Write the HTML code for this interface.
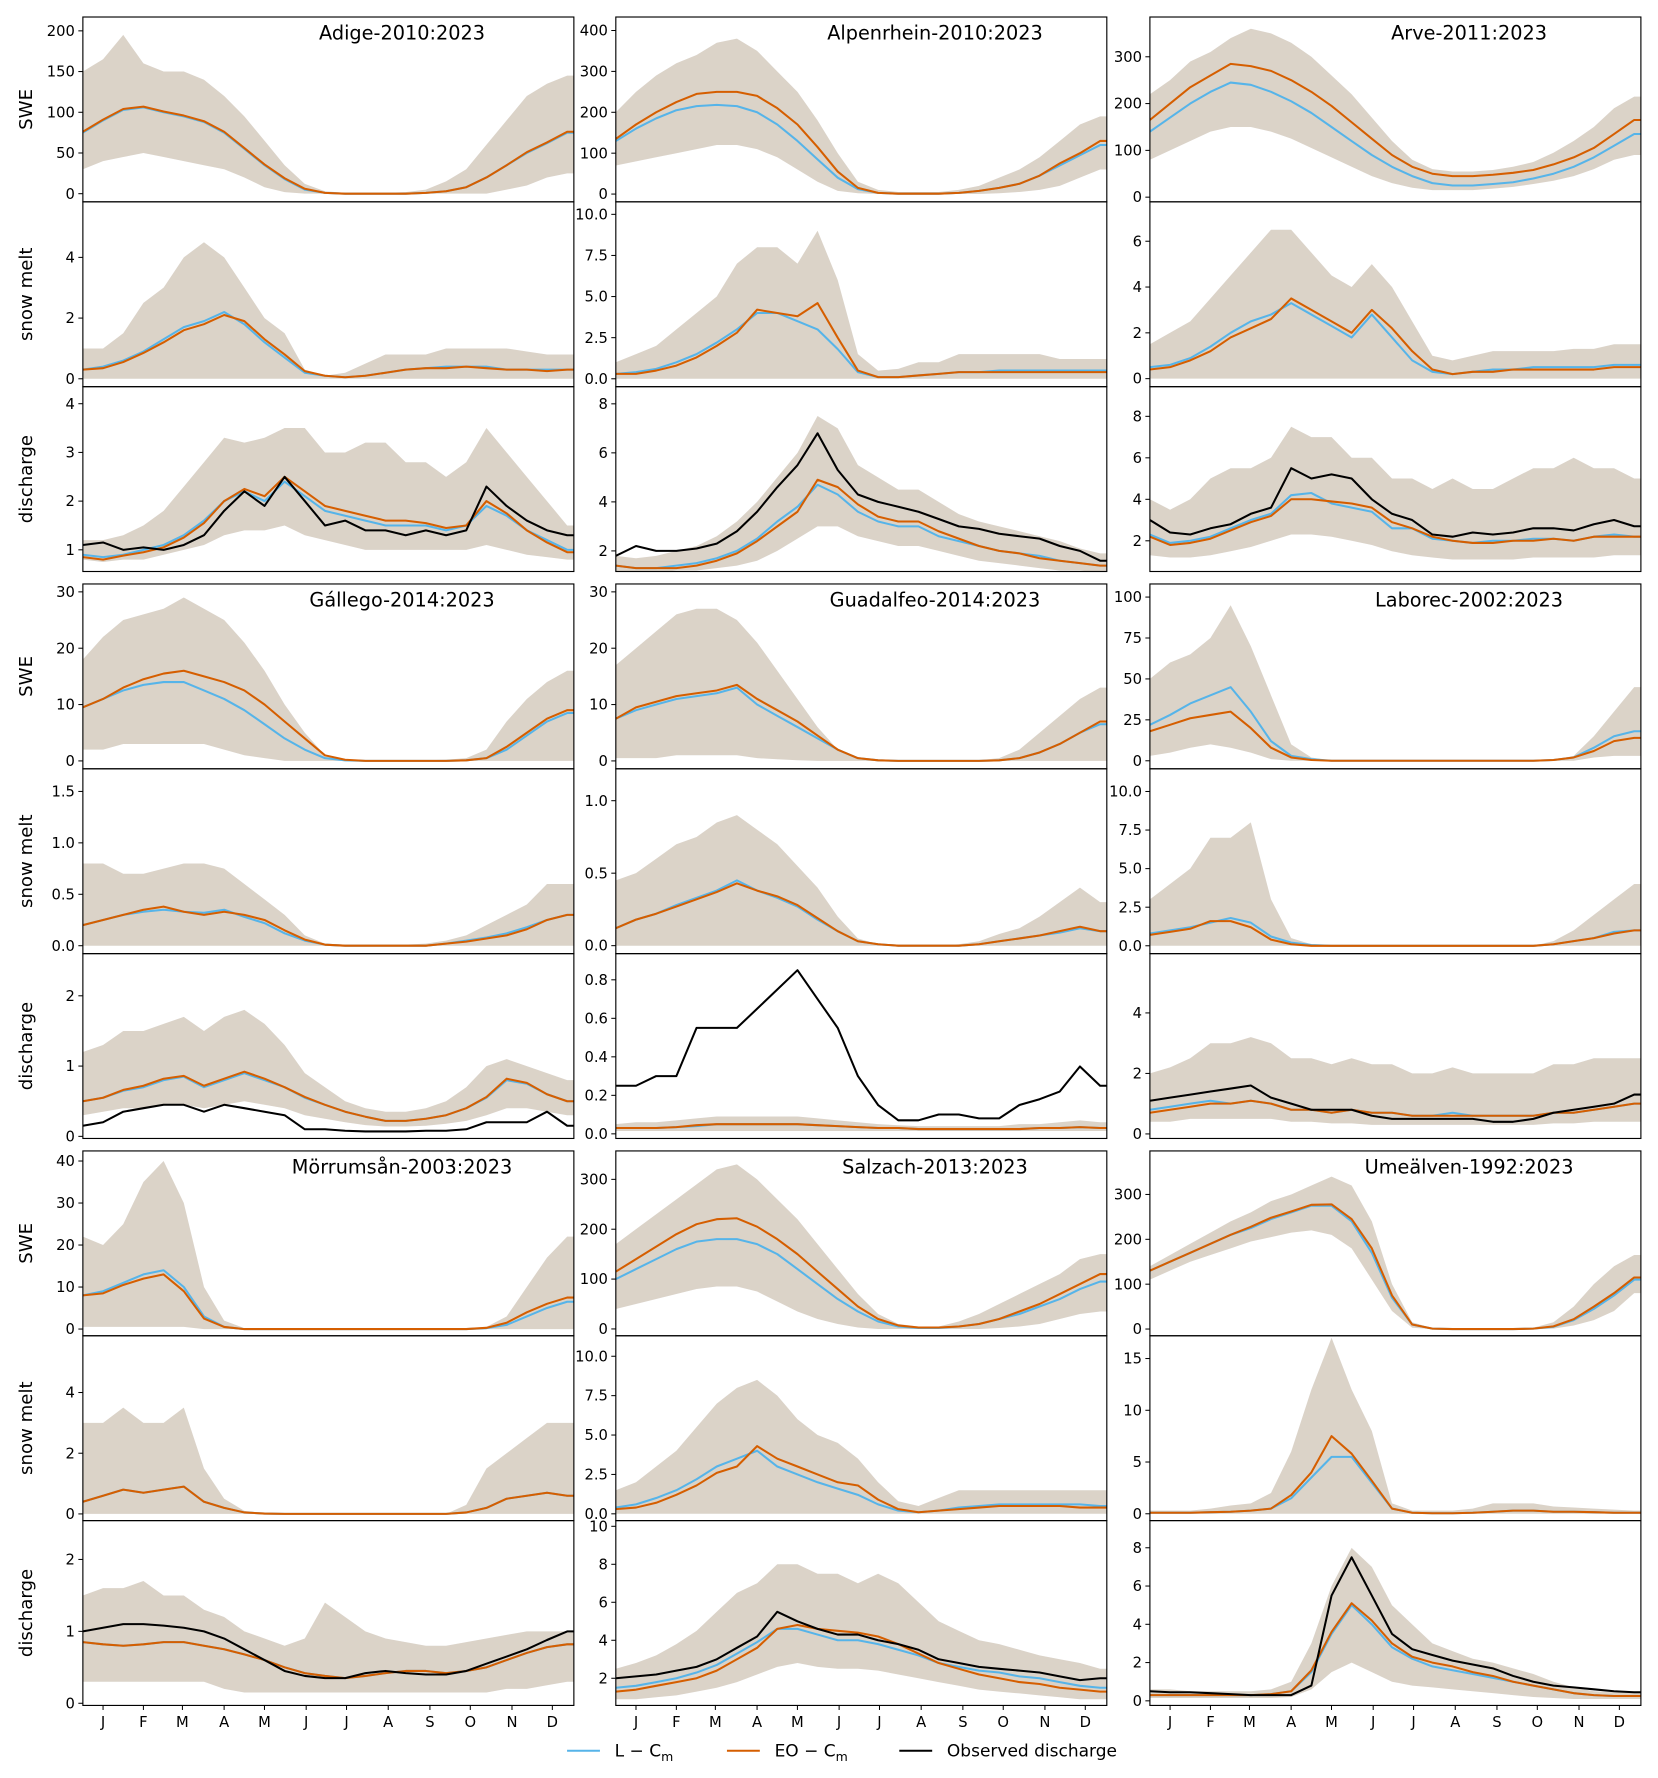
<!DOCTYPE html>
<html><head><meta charset="utf-8"><style>
body{margin:0;background:#fff;}
svg{display:block;font-family:"DejaVu Sans","Liberation Sans",sans-serif;}
</style></head><body>
<svg id="fig" width="1658" height="1778" viewBox="0 0 1462 1568" xmlns="http://www.w3.org/2000/svg"></svg>
<script>
const days=[0,15,30,45,60,75,90,105,120,135,150,165,180,195,210,225,240,255,270,285,300,315,330,345,360];
const monthLabels=['J','F','M','A','M','J','J','A','S','O','N','D'];
const monthDays=[15,45,74,105,135,166,196,227,258,288,319,349];
const basinNames=['Adige-2010:2023','Alpenrhein-2010:2023','Arve-2011:2023','Gállego-2014:2023','Guadalfeo-2014:2023','Laborec-2002:2023','Mörrumsån-2003:2023','Salzach-2013:2023','Umeälven-1992:2023'];
const rowLabels=['SWE','snow melt','discharge'];

// ---- Adige ----
const adigeSweL=[75,90,103,106,100,95,88,75,55,35,18,5,1,0,0,0,0,1,3,8,20,35,50,62,75];
const adigeSweEO=[76,91,104,107,101,96,89,76,56,36,19,6,1,0,0,0,0,1,3,8,20,35,51,63,76];
const adigeSweHi=[150,165,195,160,150,150,140,120,95,65,35,12,3,1,1,1,2,5,15,30,60,90,120,135,145];
const adigeSweLo=[30,40,45,50,45,40,35,30,20,8,2,0,0,0,0,0,0,0,0,0,0,5,10,20,25];
const adigeMeltL=[0.3,0.4,0.6,0.9,1.3,1.7,1.9,2.2,1.8,1.2,0.7,0.2,0.1,0.05,0.1,0.2,0.3,0.35,0.4,0.4,0.4,0.3,0.3,0.3,0.3];
const adigeMeltEO=[0.3,0.35,0.55,0.85,1.2,1.6,1.8,2.1,1.9,1.3,0.8,0.25,0.1,0.05,0.1,0.2,0.3,0.35,0.35,0.4,0.35,0.3,0.3,0.25,0.3];
const adigeMeltHi=[1,1,1.5,2.5,3,4,4.5,4,3,2,1.5,0.3,0.1,0.2,0.5,0.8,0.8,0.8,1,1,1,1,0.9,0.8,0.8];
const adigeMeltLo=[0,0,0,0,0,0,0,0,0,0,0,0,0,0,0,0,0,0,0,0,0,0,0,0,0];
const adigeQL=[0.9,0.85,0.9,1.0,1.1,1.3,1.6,2.0,2.2,2.0,2.4,2.1,1.8,1.7,1.6,1.5,1.5,1.5,1.4,1.5,1.9,1.7,1.4,1.2,1.0];
const adigeQEO=[0.85,0.8,0.88,0.95,1.05,1.25,1.55,2.0,2.25,2.1,2.5,2.2,1.9,1.8,1.7,1.6,1.6,1.55,1.45,1.5,2.0,1.75,1.4,1.15,0.95];
const adigeQHi=[1.2,1.2,1.3,1.5,1.8,2.3,2.8,3.3,3.2,3.3,3.5,3.5,3.0,3.0,3.2,3.2,2.8,2.8,2.5,2.8,3.5,3.0,2.5,2.0,1.5];
const adigeQLo=[0.8,0.75,0.8,0.8,0.9,1.0,1.1,1.3,1.4,1.4,1.5,1.3,1.2,1.1,1.0,1.0,1.0,1.0,1.0,1.0,1.1,1.0,0.9,0.85,0.8];
const adigeQObs=[1.1,1.15,1.0,1.05,1.0,1.1,1.3,1.8,2.2,1.9,2.5,2.0,1.5,1.6,1.4,1.4,1.3,1.4,1.3,1.4,2.3,1.9,1.6,1.4,1.3];
// ---- Alpenrhein ----
const alpSweL=[130,160,185,205,215,218,215,200,170,130,85,40,12,3,1,1,1,3,8,15,25,45,70,95,120];
const alpSweEO=[135,170,200,225,245,250,250,240,210,170,115,55,15,3,1,1,1,3,8,15,25,45,75,100,130];
const alpSweHi=[200,250,290,320,340,370,380,350,300,250,180,100,30,10,5,5,5,10,20,40,60,90,130,170,190];
const alpSweLo=[70,80,90,100,110,120,120,110,90,60,30,8,2,0,0,0,0,0,0,2,5,10,20,40,60];
const alpMeltL=[0.3,0.4,0.6,1.0,1.5,2.2,3.0,4.0,4.0,3.5,3.0,1.8,0.4,0.1,0.1,0.2,0.3,0.4,0.4,0.5,0.5,0.5,0.5,0.5,0.5];
const alpMeltEO=[0.3,0.3,0.5,0.8,1.3,2.0,2.8,4.2,4.0,3.8,4.6,2.5,0.5,0.1,0.1,0.2,0.3,0.4,0.4,0.4,0.4,0.4,0.4,0.4,0.4];
const alpMeltHi=[1,1.5,2,3,4,5,7,8,8,7,9,6,1.5,0.5,0.6,1,1,1.5,1.5,1.5,1.5,1.5,1.2,1.2,1.2];
const alpMeltLo=[0,0,0,0,0,0,0,0,0,0,0,0,0,0,0,0,0,0,0,0,0,0,0,0,0];
const alpQL=[1.4,1.3,1.3,1.4,1.5,1.7,2.0,2.5,3.2,3.8,4.7,4.3,3.6,3.2,3.0,3.0,2.6,2.4,2.2,2.0,1.9,1.8,1.6,1.5,1.4];
const alpQEO=[1.4,1.3,1.3,1.3,1.4,1.6,1.9,2.4,3.0,3.6,4.9,4.6,3.9,3.4,3.2,3.2,2.8,2.5,2.2,2.0,1.9,1.7,1.6,1.5,1.4];
const alpQHi=[1.8,1.7,1.8,2.0,2.2,2.6,3.2,4.0,5.0,6.0,7.5,7.0,5.5,5.0,4.5,4.5,4.0,3.5,3.2,3.0,2.8,2.6,2.4,2.1,1.9];
const alpQLo=[1.1,1.1,1.1,1.2,1.2,1.3,1.4,1.6,2.0,2.5,3.0,3.0,2.6,2.4,2.2,2.2,2.0,1.8,1.6,1.5,1.4,1.3,1.2,1.2,1.1];
const alpQObs=[1.8,2.2,2.0,2.0,2.1,2.3,2.8,3.6,4.6,5.5,6.8,5.3,4.3,4.0,3.8,3.6,3.3,3.0,2.9,2.7,2.6,2.5,2.2,2.0,1.6];
// ---- Arve ----
const arveSweL=[140,170,200,225,245,240,225,205,180,150,120,90,65,45,30,25,25,28,32,40,50,65,85,110,135];
const arveSweEO=[165,200,235,260,285,280,270,250,225,195,160,125,90,65,50,45,45,48,52,58,70,85,105,135,165];
const arveSweHi=[220,250,290,310,340,360,350,330,300,260,220,170,120,80,60,55,55,58,65,75,95,120,150,190,215];
const arveSweLo=[80,100,120,140,150,150,140,125,105,85,65,45,30,20,15,15,15,18,22,28,35,45,60,80,90];
const arveMeltL=[0.5,0.6,0.9,1.4,2.0,2.5,2.8,3.3,2.8,2.3,1.8,2.8,1.8,0.8,0.3,0.2,0.3,0.4,0.4,0.5,0.5,0.5,0.5,0.6,0.6];
const arveMeltEO=[0.4,0.5,0.8,1.2,1.8,2.2,2.6,3.5,3.0,2.5,2.0,3.0,2.2,1.2,0.4,0.2,0.3,0.3,0.4,0.4,0.4,0.4,0.4,0.5,0.5];
const arveMeltHi=[1.5,2,2.5,3.5,4.5,5.5,6.5,6.5,5.5,4.5,4,5,4,2.5,1,0.8,1,1.2,1.2,1.2,1.2,1.3,1.3,1.5,1.5];
const arveMeltLo=[0,0,0,0,0,0,0,0,0,0,0,0,0,0,0,0,0,0,0,0,0,0,0,0,0];
const arveQL=[2.3,1.9,2.0,2.2,2.6,3.0,3.3,4.2,4.3,3.8,3.6,3.4,2.6,2.6,2.1,2.0,1.9,2.0,2.0,2.1,2.1,2.0,2.2,2.3,2.2];
const arveQEO=[2.2,1.8,1.9,2.1,2.5,2.9,3.2,4.0,4.0,3.9,3.8,3.6,2.9,2.6,2.2,2.0,1.9,1.9,2.0,2.0,2.1,2.0,2.2,2.2,2.2];
const arveQHi=[4,3.5,4,5,5.5,5.5,6,7.5,7,7,6,6,5,5,4.5,5,4.5,4.5,5,5.5,5.5,6,5.5,5.5,5];
const arveQLo=[1.3,1.2,1.2,1.3,1.5,1.7,2,2.3,2.3,2.2,2,1.8,1.5,1.3,1.2,1.1,1.1,1.1,1.1,1.2,1.2,1.2,1.2,1.3,1.3];
const arveQObs=[3.0,2.4,2.3,2.6,2.8,3.3,3.6,5.5,5.0,5.2,5.0,4.0,3.3,3.0,2.3,2.2,2.4,2.3,2.4,2.6,2.6,2.5,2.8,3.0,2.7];
// ---- Gallego ----
const galSweL=[9.5,11,12.5,13.5,14,14,12.5,11,9,6.5,4,2,0.5,0.1,0,0,0,0,0,0.1,0.5,2,4.5,7,8.5];
const galSweEO=[9.5,11,13,14.5,15.5,16,15,14,12.5,10,7,4,1,0.2,0,0,0,0,0,0.1,0.5,2.5,5,7.5,9];
const galSweHi=[18,22,25,26,27,29,27,25,21,16,10,5,1,0.3,0.1,0.1,0.1,0.1,0.2,0.5,2,7,11,14,16];
const galSweLo=[2,2,3,3,3,3,3,2,1,0.5,0,0,0,0,0,0,0,0,0,0,0,0,0,0,0];
const galMeltL=[0.2,0.25,0.3,0.33,0.35,0.33,0.32,0.35,0.28,0.22,0.12,0.05,0.01,0,0,0,0,0,0.02,0.05,0.08,0.12,0.18,0.25,0.3];
const galMeltEO=[0.2,0.25,0.3,0.35,0.38,0.33,0.3,0.33,0.3,0.25,0.15,0.06,0.01,0,0,0,0,0,0.02,0.04,0.07,0.1,0.16,0.25,0.3];
const galMeltHi=[0.8,0.8,0.7,0.7,0.75,0.8,0.8,0.75,0.6,0.45,0.3,0.1,0.02,0.01,0.01,0.01,0.01,0.02,0.05,0.1,0.2,0.3,0.4,0.6,0.6];
const galMeltLo=[0,0,0,0,0,0,0,0,0,0,0,0,0,0,0,0,0,0,0,0,0,0,0,0,0];
const galQL=[0.5,0.55,0.65,0.7,0.8,0.85,0.7,0.8,0.9,0.8,0.7,0.55,0.45,0.35,0.28,0.22,0.22,0.25,0.3,0.4,0.55,0.8,0.75,0.6,0.5];
const galQEO=[0.5,0.55,0.66,0.72,0.82,0.86,0.72,0.82,0.92,0.82,0.7,0.56,0.45,0.35,0.28,0.22,0.22,0.25,0.3,0.4,0.56,0.82,0.76,0.6,0.5];
const galQHi=[1.2,1.3,1.5,1.5,1.6,1.7,1.5,1.7,1.8,1.6,1.3,0.9,0.7,0.5,0.4,0.35,0.35,0.4,0.5,0.7,1.0,1.1,1.0,0.9,0.8];
const galQLo=[0.3,0.35,0.4,0.4,0.45,0.45,0.4,0.45,0.5,0.45,0.4,0.3,0.25,0.2,0.16,0.14,0.14,0.15,0.18,0.22,0.3,0.4,0.4,0.35,0.3];
const galQObs=[0.15,0.2,0.35,0.4,0.45,0.45,0.35,0.45,0.4,0.35,0.3,0.1,0.1,0.08,0.07,0.07,0.07,0.08,0.08,0.1,0.2,0.2,0.2,0.35,0.15];
// ---- Guadalfeo ----
const guaSweL=[7.5,9,10,11,11.5,12,13,10,8,6,4,2,0.5,0.1,0,0,0,0,0,0.1,0.5,1.5,3,5,6.5];
const guaSweEO=[7.5,9.5,10.5,11.5,12,12.5,13.5,11,9,7,4.5,2,0.5,0.1,0,0,0,0,0,0.1,0.5,1.5,3,5,7];
const guaSweHi=[17,20,23,26,27,27,25,21,16,11,6,2,0.5,0.1,0,0,0,0,0.1,0.5,2,5,8,11,13];
const guaSweLo=[0.5,0.5,0.5,1,1,1,1,0.5,0.3,0.1,0,0,0,0,0,0,0,0,0,0,0,0,0,0,0];
const guaMeltL=[0.12,0.18,0.22,0.28,0.33,0.38,0.45,0.38,0.33,0.27,0.18,0.1,0.03,0.01,0,0,0,0,0.01,0.03,0.05,0.07,0.09,0.12,0.1];
const guaMeltEO=[0.12,0.18,0.22,0.27,0.32,0.37,0.43,0.38,0.34,0.28,0.19,0.1,0.03,0.01,0,0,0,0,0.01,0.03,0.05,0.07,0.1,0.13,0.1];
const guaMeltHi=[0.45,0.5,0.6,0.7,0.75,0.85,0.9,0.8,0.7,0.55,0.4,0.2,0.05,0.01,0,0,0,0.01,0.03,0.08,0.12,0.2,0.3,0.4,0.3];
const guaMeltLo=[0,0,0,0,0,0,0,0,0,0,0,0,0,0,0,0,0,0,0,0,0,0,0,0,0];
const guaQL=[0.03,0.03,0.03,0.035,0.04,0.05,0.05,0.05,0.05,0.05,0.045,0.04,0.035,0.03,0.03,0.025,0.025,0.025,0.025,0.025,0.025,0.03,0.03,0.035,0.03];
const guaQEO=[0.03,0.03,0.03,0.035,0.045,0.05,0.05,0.05,0.05,0.05,0.045,0.04,0.035,0.03,0.03,0.025,0.025,0.025,0.025,0.025,0.025,0.03,0.03,0.035,0.03];
const guaQHi=[0.05,0.06,0.06,0.07,0.08,0.09,0.09,0.09,0.09,0.09,0.08,0.07,0.06,0.05,0.045,0.04,0.04,0.04,0.04,0.04,0.05,0.05,0.06,0.07,0.06];
const guaQLo=[0.015,0.015,0.015,0.015,0.015,0.015,0.015,0.015,0.015,0.015,0.015,0.015,0.015,0.015,0.015,0.015,0.015,0.015,0.015,0.015,0.015,0.015,0.015,0.015,0.015];
const guaQObs=[0.25,0.25,0.3,0.3,0.55,0.55,0.55,0.65,0.75,0.85,0.7,0.55,0.3,0.15,0.07,0.07,0.1,0.1,0.08,0.08,0.15,0.18,0.22,0.35,0.25];
// ---- Laborec ----
const labSweL=[22,28,35,40,45,30,12,3,1,0,0,0,0,0,0,0,0,0,0,0,0.5,2,8,15,18];
const labSweEO=[18,22,26,28,30,20,8,2,0.5,0,0,0,0,0,0,0,0,0,0,0,0.5,2,6,12,14];
const labSweHi=[50,60,65,75,95,70,40,10,2,0,0,0,0,0,0,0,0,0,0,0,0.5,3,15,30,45];
const labSweLo=[3,5,8,10,8,5,1,0,0,0,0,0,0,0,0,0,0,0,0,0,0,0,2,3,3];
const labMeltL=[0.8,1.0,1.2,1.5,1.8,1.5,0.6,0.2,0.05,0,0,0,0,0,0,0,0,0,0,0,0.1,0.3,0.5,0.9,1.0];
const labMeltEO=[0.7,0.9,1.1,1.6,1.6,1.2,0.4,0.1,0,0,0,0,0,0,0,0,0,0,0,0,0.1,0.3,0.5,0.8,1.0];
const labMeltHi=[3,4,5,7,7,8,3,0.5,0.1,0,0,0,0,0,0,0,0,0,0,0,0.3,1,2,3,4];
const labMeltLo=[0,0,0,0,0,0,0,0,0,0,0,0,0,0,0,0,0,0,0,0,0,0,0,0,0];
const labQL=[0.8,0.9,1.0,1.1,1.0,1.1,1.0,0.8,0.8,0.7,0.8,0.7,0.7,0.6,0.6,0.7,0.6,0.6,0.6,0.6,0.7,0.7,0.8,0.9,1.0];
const labQEO=[0.7,0.8,0.9,1.0,1.0,1.1,1.0,0.8,0.8,0.7,0.8,0.7,0.7,0.6,0.6,0.6,0.6,0.6,0.6,0.6,0.7,0.7,0.8,0.9,1.0];
const labQHi=[2,2.2,2.5,3,3,3.2,3,2.5,2.5,2.3,2.5,2.3,2.3,2,2,2.2,2,2,2,2,2.3,2.3,2.5,2.5,2.5];
const labQLo=[0.4,0.4,0.5,0.5,0.5,0.5,0.5,0.4,0.4,0.35,0.35,0.3,0.3,0.3,0.3,0.3,0.3,0.3,0.3,0.3,0.35,0.35,0.4,0.4,0.4];
const labQObs=[1.1,1.2,1.3,1.4,1.5,1.6,1.2,1.0,0.8,0.8,0.8,0.6,0.5,0.5,0.5,0.5,0.5,0.4,0.4,0.5,0.7,0.8,0.9,1.0,1.3];
// ---- Morrumsan ----
const morSweL=[8,9,11,13,14,10,3,0.5,0,0,0,0,0,0,0,0,0,0,0,0,0.2,1,3,5,6.5];
const morSweEO=[8,8.5,10.5,12,13,9,2.5,0.5,0,0,0,0,0,0,0,0,0,0,0,0,0.3,1.5,4,6,7.5];
const morSweHi=[22,20,25,35,40,30,10,2,0.2,0,0,0,0,0,0,0,0,0,0,0,0.5,3,10,17,22];
const morSweLo=[0.5,0.5,0.5,0.5,0.5,0.5,0,0,0,0,0,0,0,0,0,0,0,0,0,0,0,0,0,0,0];
const morMeltL=[0.4,0.6,0.8,0.7,0.8,0.9,0.4,0.2,0.05,0.01,0,0,0,0,0,0,0,0,0,0.05,0.2,0.5,0.6,0.7,0.6];
const morMeltEO=[0.4,0.6,0.8,0.7,0.8,0.9,0.4,0.2,0.05,0.01,0,0,0,0,0,0,0,0,0,0.05,0.2,0.5,0.6,0.7,0.6];
const morMeltHi=[3,3,3.5,3,3,3.5,1.5,0.5,0.1,0.02,0,0,0,0,0,0,0,0,0,0.3,1.5,2,2.5,3,3];
const morMeltLo=[0,0,0,0,0,0,0,0,0,0,0,0,0,0,0,0,0,0,0,0,0,0,0,0,0];
const morQL=[0.85,0.82,0.8,0.82,0.85,0.85,0.8,0.75,0.68,0.6,0.5,0.42,0.38,0.35,0.38,0.42,0.45,0.45,0.42,0.45,0.5,0.6,0.7,0.78,0.82];
const morQEO=[0.85,0.82,0.8,0.82,0.85,0.85,0.8,0.75,0.68,0.6,0.5,0.42,0.38,0.35,0.38,0.42,0.45,0.45,0.42,0.45,0.5,0.6,0.7,0.78,0.82];
const morQHi=[1.5,1.6,1.6,1.7,1.5,1.5,1.3,1.2,1.0,0.9,0.8,0.9,1.4,1.2,1.0,0.9,0.85,0.8,0.8,0.85,0.9,0.95,1.0,1.0,1.0];
const morQLo=[0.3,0.3,0.3,0.3,0.3,0.3,0.3,0.2,0.15,0.15,0.15,0.15,0.15,0.15,0.15,0.15,0.15,0.15,0.15,0.15,0.15,0.2,0.2,0.25,0.3];
const morQObs=[1.0,1.05,1.1,1.1,1.08,1.05,1.0,0.9,0.75,0.6,0.45,0.38,0.35,0.35,0.42,0.45,0.42,0.4,0.4,0.45,0.55,0.65,0.75,0.88,1.0];
// ---- Salzach ----
const salSweL=[100,120,140,160,175,180,180,170,150,120,90,60,35,15,5,2,2,5,10,20,30,45,60,80,95];
const salSweEO=[115,140,165,190,210,220,222,205,180,150,115,80,45,20,7,3,3,5,10,20,35,50,70,90,110];
const salSweHi=[170,200,230,260,290,320,330,300,260,220,170,120,70,30,10,5,5,15,30,50,70,90,110,140,150];
const salSweLo=[40,50,60,70,80,85,85,75,55,35,20,10,3,0,0,0,0,0,0,2,5,10,20,30,35];
const salMeltL=[0.4,0.6,1.0,1.5,2.2,3.0,3.5,4.0,3.0,2.5,2.0,1.6,1.2,0.6,0.2,0.1,0.2,0.4,0.5,0.6,0.6,0.6,0.6,0.6,0.5];
const salMeltEO=[0.3,0.4,0.7,1.2,1.8,2.6,3.0,4.3,3.5,3.0,2.5,2.0,1.8,0.9,0.3,0.1,0.2,0.3,0.4,0.5,0.5,0.5,0.5,0.4,0.4];
const salMeltHi=[1.5,2,3,4,5.5,7,8,8.5,7.5,6,5,4.5,3.5,2,0.8,0.5,1,1.5,1.5,1.5,1.5,1.5,1.5,1.5,1.5];
const salMeltLo=[0,0,0,0,0,0,0,0,0,0,0,0,0,0,0,0,0,0,0,0,0,0,0,0,0];
const salQL=[1.5,1.6,1.8,2.0,2.3,2.7,3.3,3.9,4.6,4.6,4.3,4.0,4.0,3.8,3.5,3.2,2.8,2.6,2.4,2.3,2.1,2.0,1.8,1.6,1.5];
const salQEO=[1.3,1.4,1.6,1.8,2.0,2.4,3.0,3.6,4.6,4.8,4.6,4.5,4.4,4.2,3.8,3.3,2.8,2.5,2.2,2.0,1.8,1.7,1.5,1.4,1.3];
const salQHi=[2.5,2.8,3.2,3.8,4.5,5.5,6.5,7,8,8,7.5,7.5,7,7.5,7,6,5,4.5,4,3.8,3.5,3.2,3,2.8,2.5];
const salQLo=[0.9,0.9,1.0,1.1,1.3,1.5,1.8,2.2,2.6,2.8,2.6,2.5,2.5,2.4,2.2,2.0,1.8,1.6,1.4,1.3,1.2,1.1,1.0,0.9,0.9];
const salQObs=[2.0,2.1,2.2,2.4,2.6,3.0,3.6,4.2,5.5,5.0,4.6,4.3,4.3,4.0,3.8,3.5,3.0,2.8,2.6,2.5,2.4,2.3,2.1,1.9,2.0];
// ---- Umealven ----
const umeSweL=[130,150,170,190,210,225,245,260,275,275,240,170,70,10,1,0,0,0,0,1,5,20,45,75,110];
const umeSweEO=[130,150,170,190,210,228,248,262,277,278,245,180,75,10,1,0,0,0,0,1,6,22,50,80,115];
const umeSweHi=[140,165,190,215,240,260,285,300,320,340,320,240,100,15,2,0,0,0,1,3,15,50,100,140,165];
const umeSweLo=[110,130,150,165,180,195,205,215,220,210,180,110,40,3,0,0,0,0,0,0,1,8,20,40,80];
const umeMeltL=[0.1,0.1,0.1,0.15,0.2,0.3,0.5,1.5,3.5,5.5,5.5,3.0,0.5,0.1,0.05,0.05,0.1,0.2,0.3,0.3,0.2,0.2,0.15,0.1,0.1];
const umeMeltEO=[0.1,0.1,0.1,0.15,0.2,0.3,0.5,1.8,4,7.5,5.8,3.2,0.5,0.1,0.05,0.05,0.1,0.2,0.3,0.3,0.2,0.2,0.15,0.1,0.1];
const umeMeltHi=[0.3,0.3,0.3,0.5,0.8,1,2,6,12,17,12,8,1,0.3,0.3,0.3,0.5,1,1,1,0.7,0.6,0.5,0.4,0.3];
const umeMeltLo=[0,0,0,0,0,0,0,0,0,0,0,0,0,0,0,0,0,0,0,0,0,0,0,0,0];
const umeQL=[0.3,0.3,0.3,0.3,0.3,0.3,0.35,0.5,1.5,3.5,5.0,4.0,2.8,2.2,1.8,1.6,1.4,1.2,1.0,0.8,0.6,0.4,0.3,0.25,0.25];
const umeQEO=[0.3,0.3,0.3,0.3,0.3,0.3,0.35,0.5,1.6,3.6,5.1,4.2,3.0,2.3,2.0,1.8,1.5,1.3,1.0,0.8,0.6,0.4,0.3,0.25,0.25];
const umeQHi=[0.6,0.6,0.5,0.5,0.5,0.5,0.6,1,3,6,8,7,5,4,3,2.6,2.2,2,1.7,1.4,1.0,0.7,0.5,0.45,0.5];
const umeQLo=[0.15,0.15,0.15,0.15,0.15,0.15,0.15,0.2,0.6,1.5,2.0,1.5,1.0,0.8,0.7,0.6,0.5,0.4,0.3,0.2,0.15,0.1,0.1,0.1,0.1];
const umeQObs=[0.5,0.45,0.45,0.4,0.35,0.3,0.3,0.3,0.8,5.5,7.5,5.5,3.5,2.7,2.4,2.1,1.9,1.7,1.3,1.0,0.8,0.7,0.6,0.5,0.45];

// y-limits and tick labels
const yLimits=[
 [[-10,217],[-0.26,5.83],[0.555,4.35]],
 [[-19,433],[-0.48,10.76],[1.16,8.7]],
 [[-10,385],[-0.35,7.72],[0.52,9.43]],
 [[-1.4,31.4],[-0.077,1.72],[-0.03,2.6]],
 [[-1.4,31.4],[-0.055,1.22],[-0.024,0.936]],
 [[-4.9,108],[-0.51,11.47],[-0.15,5.96]],
 [[-1.6,42.4],[-0.22,5.87],[-0.03,2.54]],
 [[-13.7,357],[-0.43,11.3],[0.57,10.3]],
 [[-15,397],[-0.66,17.2],[-0.24,9.42]]];
const yTicks=[
 [['0','50','100','150','200'],['0','2','4'],['1','2','3','4']],
 [['0','100','200','300','400'],['0.0','2.5','5.0','7.5','10.0'],['2','4','6','8']],
 [['0','100','200','300'],['0','2','4','6'],['2','4','6','8']],
 [['0','10','20','30'],['0.0','0.5','1.0','1.5'],['0','1','2']],
 [['0','10','20','30'],['0.0','0.5','1.0'],['0.0','0.2','0.4','0.6','0.8']],
 [['0','25','50','75','100'],['0.0','2.5','5.0','7.5','10.0'],['0','2','4']],
 [['0','10','20','30','40'],['0','2','4'],['0','1','2']],
 [['0','100','200','300'],['0.0','2.5','5.0','7.5','10.0'],['2','4','6','8','10']],
 [['0','100','200','300'],['0','5','10','15'],['0','2','4','6','8']]];

const series=[
 [[adigeSweL,adigeSweEO,adigeSweHi,adigeSweLo,null],[adigeMeltL,adigeMeltEO,adigeMeltHi,adigeMeltLo,null],[adigeQL,adigeQEO,adigeQHi,adigeQLo,adigeQObs]],
 [[alpSweL,alpSweEO,alpSweHi,alpSweLo,null],[alpMeltL,alpMeltEO,alpMeltHi,alpMeltLo,null],[alpQL,alpQEO,alpQHi,alpQLo,alpQObs]],
 [[arveSweL,arveSweEO,arveSweHi,arveSweLo,null],[arveMeltL,arveMeltEO,arveMeltHi,arveMeltLo,null],[arveQL,arveQEO,arveQHi,arveQLo,arveQObs]],
 [[galSweL,galSweEO,galSweHi,galSweLo,null],[galMeltL,galMeltEO,galMeltHi,galMeltLo,null],[galQL,galQEO,galQHi,galQLo,galQObs]],
 [[guaSweL,guaSweEO,guaSweHi,guaSweLo,null],[guaMeltL,guaMeltEO,guaMeltHi,guaMeltLo,null],[guaQL,guaQEO,guaQHi,guaQLo,guaQObs]],
 [[labSweL,labSweEO,labSweHi,labSweLo,null],[labMeltL,labMeltEO,labMeltHi,labMeltLo,null],[labQL,labQEO,labQHi,labQLo,labQObs]],
 [[morSweL,morSweEO,morSweHi,morSweLo,null],[morMeltL,morMeltEO,morMeltHi,morMeltLo,null],[morQL,morQEO,morQHi,morQLo,morQObs]],
 [[salSweL,salSweEO,salSweHi,salSweLo,null],[salMeltL,salMeltEO,salMeltHi,salMeltLo,null],[salQL,salQEO,salQHi,salQLo,salQObs]],
 [[umeSweL,umeSweEO,umeSweHi,umeSweLo,null],[umeMeltL,umeMeltEO,umeMeltHi,umeMeltLo,null],[umeQL,umeQEO,umeQHi,umeQLo,umeQObs]]];

const NS='http://www.w3.org/2000/svg';
const svg=document.getElementById('fig');
const colX=[73,543,1014], grpY=[15,515,1015], PW=433, PH=163;
function mk(tag,attrs,parent){const e=document.createElementNS(NS,tag);for(const k in attrs)e.setAttribute(k,attrs[k]);(parent||svg).appendChild(e);return e;}

for(let b=0;b<9;b++){
  const col=b%3, grp=Math.floor(b/3);
  for(let r=0;r<3;r++){
    const x0=colX[col], y0=grpY[grp]+r*PH;
    const [lo,hi]=yLimits[b][r];
    const sx=d=>x0+d/365*PW;
    const sy=v=>y0+PH-(v-lo)/(hi-lo)*PH;
    const g=mk('g',{});
    
    
    const clipId='c'+b+'_'+r;
    const cp=mk('clipPath',{id:clipId},g);
    mk('rect',{x:x0,y:y0,width:PW,height:PH},cp);
    const plot=mk('g',{'clip-path':'url(#'+clipId+')'},g);
    const [sL,sEO,sHi,sLo,sObs]=series[b][r];
    let bp='';
    days.forEach((d,i)=>{bp+=(i?'L':'M')+sx(d).toFixed(1)+','+sy(sHi[i]).toFixed(1);});
    bp+='L'+sx(365).toFixed(1)+','+sy(sHi[sHi.length-1]).toFixed(1);
    bp+='L'+sx(365).toFixed(1)+','+sy(sLo[sLo.length-1]).toFixed(1);
    for(let i=days.length-1;i>=0;i--){bp+='L'+sx(days[i]).toFixed(1)+','+sy(sLo[i]).toFixed(1);}
    bp+='Z';
    const b1=mk('path',{d:bp,fill:'#56b4e9','fill-opacity':0.2,stroke:'none'},plot);
    
    
    const b2=mk('path',{d:bp,fill:'#d55e00','fill-opacity':0.2,stroke:'none'},plot);
    
    
    const line=(arr,color,name)=>{
      let p='';days.forEach((d,i)=>{p+=(i?'L':'M')+sx(d).toFixed(1)+','+sy(arr[i]).toFixed(1);});
      p+='L'+sx(365).toFixed(1)+','+sy(arr[arr.length-1]).toFixed(1);
      const e=mk('path',{d:p,fill:'none',stroke:color,'stroke-width':1.8,'stroke-linejoin':'round'},plot);
      
      
    };
    line(sL,'#56b4e9','line-l-cm');
    line(sEO,'#d55e00','line-eo-cm');
    if(sObs) line(sObs,'#000','line-observed');
    mk('rect',{x:x0,y:y0,width:PW,height:PH,fill:'none',stroke:'#000','stroke-width':1},g);
    yTicks[b][r].forEach(t=>{
      const yy=sy(parseFloat(t));
      mk('line',{x1:x0-4,x2:x0,y1:yy,y2:yy,stroke:'#000','stroke-width':0.9},g);
      const tx=mk('text',{x:x0-7,y:yy+4.5,'font-size':13,'text-anchor':'end',fill:'#000'},g);
      tx.textContent=t;
      
      
    });
    if(r===0){
      const tt=mk('text',{x:x0+0.65*PW,y:y0+20,'font-size':17,'text-anchor':'middle',fill:'#000'},g);
      tt.textContent=basinNames[b];
      
      
    }
    if(col===0){
      const cy=y0+PH/2;
      const yl=mk('text',{x:0,y:0,'font-size':16,'text-anchor':'middle',fill:'#000',transform:'translate(28,'+cy+') rotate(-90)'},g);
      yl.textContent=rowLabels[r];
      
      
    }
    if(r===2 && grp===2){
      monthDays.forEach((d,i)=>{
        const xx=sx(d);
        mk('line',{x1:xx,x2:xx,y1:y0+PH,y2:y0+PH+4,stroke:'#000','stroke-width':0.9},g);
        const mt=mk('text',{x:xx,y:y0+PH+19,'font-size':13,'text-anchor':'middle',fill:'#000'},g);
        mt.textContent=monthLabels[i];
        
        
      });
    }
  }
}
const leg=mk('g',{});


const legItems=[['#56b4e9',500,'L − C','m','legend-entry-l-cm'],['#d55e00',641,'EO − C','m','legend-entry-eo-cm'],['#000',793,'Observed discharge','','legend-entry-observed']];
legItems.forEach(it=>{
  const gi=mk('g',{},leg);
  
  
  mk('line',{x1:it[1],x2:it[1]+29,y1:1544,y2:1544,stroke:it[0],'stroke-width':1.8},gi);
  const t=mk('text',{x:it[1]+42,y:1549,'font-size':15,fill:'#000'},gi);
  t.textContent=it[2];
  if(it[3]){const s=mk('tspan',{'font-size':11,dy:4},t);s.textContent=it[3];}
});
</script>
</body></html>
